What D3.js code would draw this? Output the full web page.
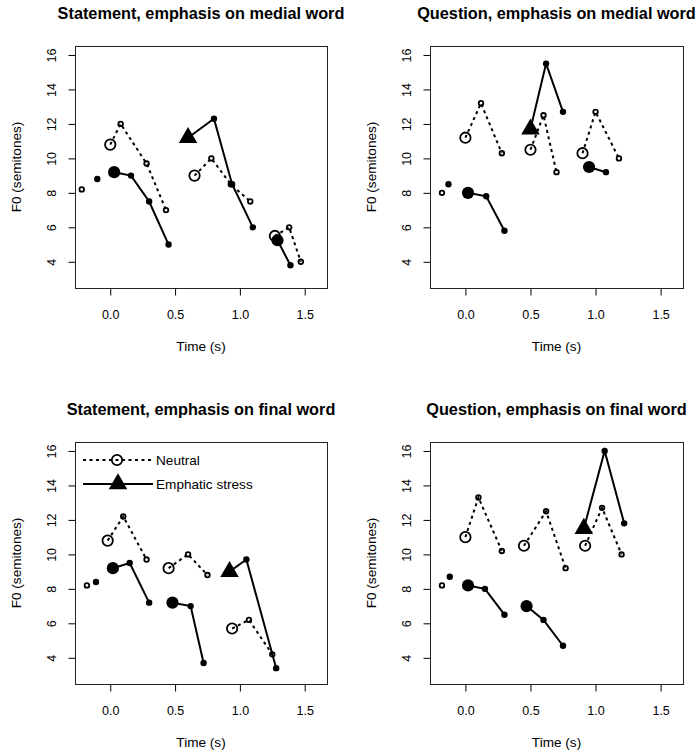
<!DOCTYPE html>
<html>
<head>
<meta charset="utf-8">
<script src="https://cdn.jsdelivr.net/npm/d3@7"></script>
<style>
  body { margin: 0; background: #fff; }
  svg { font-family: "Liberation Sans", Arial, sans-serif; }
</style>
</head>
<body>
<svg width="700" height="751"></svg>
<script>
// panel titles, top-left, top-right, bottom-left, bottom-right
var panel_titles = [
    "Statement, emphasis on medial word",
    "Question, emphasis on medial word",
    "Statement, emphasis on final word",
    "Question, emphasis on final word"
];

// each series is a list of words, each word a list of [time, F0]
// single point word = unstressed lead-in syllable
var neutral_stmt_medial = [
    [[-0.22, 8.2]],
    [[0.0, 10.8], [0.08, 12.0], [0.28, 9.7], [0.43, 7.0]],
    [[0.65, 9.0], [0.78, 10.0], [0.93, 8.5], [1.08, 7.5]],
    [[1.27, 5.5], [1.38, 6.0], [1.47, 4.0]]
];
var emphatic_stmt_medial = [
    [[-0.1, 8.8]],
    [[0.03, 9.2], [0.16, 9.0], [0.3, 7.5], [0.45, 5.0]],
    [[0.6, 11.2], [0.8, 12.3], [0.94, 8.5], [1.1, 6.0]],
    [[1.29, 5.25], [1.39, 3.8]]
];
var neutral_quest_medial = [
    [[-0.18, 8.0]],
    [[0.0, 11.2], [0.12, 13.2], [0.28, 10.3]],
    [[0.5, 10.5], [0.6, 12.5], [0.7, 9.2]],
    [[0.9, 10.3], [1.0, 12.7], [1.18, 10.0]]
];
var emphatic_quest_medial = [
    [[-0.13, 8.5]],
    [[0.02, 8.0], [0.16, 7.8], [0.3, 5.8]],
    [[0.5, 11.7], [0.62, 15.5], [0.75, 12.7]],
    [[0.95, 9.5], [1.08, 9.2]]
];
var neutral_stmt_final = [
    [[-0.18, 8.2]],
    [[-0.02, 10.8], [0.1, 12.2], [0.28, 9.7]],
    [[0.45, 9.2], [0.6, 10.0], [0.75, 8.8]],
    [[0.94, 5.7], [1.07, 6.2], [1.25, 4.2]]
];
var emphatic_stmt_final = [
    [[-0.11, 8.4]],
    [[0.02, 9.2], [0.15, 9.5], [0.3, 7.2]],
    [[0.48, 7.2], [0.62, 7.0], [0.72, 3.7]],
    [[0.92, 9.0], [1.05, 9.7], [1.28, 3.4]]
];
var neutral_quest_final = [
    [[-0.18, 8.2]],
    [[0.0, 11.0], [0.1, 13.3], [0.28, 10.2]],
    [[0.45, 10.5], [0.62, 12.5], [0.77, 9.2]],
    [[0.92, 10.5], [1.05, 12.7], [1.2, 10.0]]
];
var emphatic_quest_final = [
    [[-0.12, 8.7]],
    [[0.02, 8.2], [0.15, 8.0], [0.3, 6.5]],
    [[0.47, 7.0], [0.6, 6.2], [0.75, 4.7]],
    [[0.91, 11.5], [1.07, 16.0], [1.22, 11.8]]
];
var emphasised_word = [2, 2, 3, 3]; // index of the stressed word in each panel

var x_ticks = [0, 0.5, 1.0, 1.5];
var y_ticks = [4, 6, 8, 10, 12, 14, 16];
var x_lim = [-0.2, 1.6];
var y_lim = [3, 16];
var legend_labels = ["Neutral", "Emphatic stress"];

var neutral_sets = [neutral_stmt_medial, neutral_quest_medial, neutral_stmt_final, neutral_quest_final];
var emphatic_sets = [emphatic_stmt_medial, emphatic_quest_medial, emphatic_stmt_final, emphatic_quest_final];

// plot boxes in pixels
var boxes = [
    { x0: 75, x1: 327, y0: 46, y1: 288 },
    { x0: 430, x1: 683, y0: 46, y1: 288 },
    { x0: 75, x1: 327, y0: 442, y1: 684 },
    { x0: 430, x1: 683, y0: 442, y1: 684 }
];

var BIG_R = 5.8, SMALL_R = 2.9, TRI_R = 10.7;

function extend(lim) { // R style 4% padding
    var d = (lim[1] - lim[0]) * 0.04;
    return [lim[0] - d, lim[1] + d];
}

var svg = d3.select("svg");

function draw_word(g, pts, xscale, yscale, filled, stressed) {
    var line = d3.line()
        .x(function (d) { return xscale(d[0]); })
        .y(function (d) { return yscale(d[1]); });
    if (pts.length > 1) {
        g.append("path")
            .attr("d", line(pts))
            .attr("fill", "none")
            .attr("stroke", "#000")
            .attr("stroke-width", 2)
            .attr("stroke-dasharray", filled ? null : "3,3.5");
    }
    pts.forEach(function (p, i) {
        var big = pts.length > 1 && i == 0;
        if (big && stressed) {
            g.append("path")
                .attr("d", d3.symbol().type(d3.symbolTriangle).size(1.299 * TRI_R * TRI_R)())
                .attr("transform", "translate(" + xscale(p[0]) + "," + yscale(p[1]) + ")")
                .attr("fill", "#000");
            return;
        }
        var r = big ? BIG_R : SMALL_R;
        if (filled) {
            g.append("circle").attr("cx", xscale(p[0])).attr("cy", yscale(p[1]))
                .attr("r", r + 0.3).attr("fill", "#000");
        } else {
            g.append("circle").attr("cx", xscale(p[0])).attr("cy", yscale(p[1]))
                .attr("r", r - 0.6).attr("fill", "none")
                .attr("stroke", "#000").attr("stroke-width", 1.8);
        }
    });
}

boxes.forEach(function (box, k) {
    var xscale = d3.scaleLinear().domain(extend(x_lim)).range([box.x0, box.x1]);
    var yscale = d3.scaleLinear().domain(extend(y_lim)).range([box.y1, box.y0]);
    var g = svg.append("g");

    // x axis
    var xa = g.append("g")
        .attr("transform", "translate(0," + (box.y1 + 0.5) + ")")
        .call(d3.axisBottom(xscale).tickValues(x_ticks).tickSize(7).tickPadding(0)
            .tickFormat(d3.format(".1f")));
    xa.select(".domain").remove();
    xa.selectAll("line").attr("stroke", "#000");
    xa.selectAll("text").attr("y", 30.5).attr("dy", null)
        .attr("font-size", "12.5px").attr("fill", "#000");

    // y axis, labels rotated like R
    var ya = g.append("g")
        .attr("transform", "translate(" + (box.x0 + 0.5) + ",0)")
        .call(d3.axisLeft(yscale).tickValues(y_ticks).tickSize(7));
    ya.select(".domain").remove();
    ya.selectAll("line").attr("stroke", "#000");
    ya.selectAll("text")
        .attr("x", null).attr("dy", null)
        .attr("text-anchor", "middle")
        .attr("transform", "translate(-20,0) rotate(-90)")
        .attr("font-size", "12.5px").attr("fill", "#000");

    g.append("rect")
        .attr("x", box.x0 + 0.5).attr("y", box.y0 + 0.5)
        .attr("width", box.x1 - box.x0).attr("height", box.y1 - box.y0)
        .attr("fill", "none").attr("stroke", "#222").attr("stroke-width", 1);

    // titles
    g.append("text")
        .attr("x", (box.x0 + box.x1) / 2).attr("y", box.y0 - 27)
        .attr("text-anchor", "middle").attr("font-weight", "bold")
        .attr("font-size", "16.3px")
        .text(panel_titles[k]);
    g.append("text")
        .attr("x", (box.x0 + box.x1) / 2).attr("y", box.y1 + 62.5)
        .attr("text-anchor", "middle").attr("font-size", "13.6px")
        .text("Time (s)");
    g.append("text")
        .attr("transform", "translate(" + (box.x0 - 54) + "," + ((box.y0 + box.y1) / 2) + ") rotate(-90)")
        .attr("text-anchor", "middle").attr("font-size", "13.6px")
        .text("F0 (semitones)");

    var marks = g.append("g");
    neutral_sets[k].forEach(function (w) {
        draw_word(marks, w, xscale, yscale, false, false);
    });
    emphatic_sets[k].forEach(function (w, i) {
        draw_word(marks, w, xscale, yscale, true, i == emphasised_word[k]);
    });

    // legend only in the bottom-left panel
    if (k == 2) {
        var lg = g.append("g");
        [0, 1].forEach(function (j) {
            var ly = box.y0 + 18 + j * 24;
            lg.append("line")
                .attr("x1", box.x0 + 8).attr("x2", box.x0 + 78)
                .attr("y1", ly).attr("y2", ly)
                .attr("stroke", "#000").attr("stroke-width", 2)
                .attr("stroke-dasharray", j == 0 ? "3,3.5" : null);
            if (j == 0) {
                lg.append("circle").attr("cx", box.x0 + 42).attr("cy", ly)
                    .attr("r", BIG_R - 0.6).attr("fill", "none")
                    .attr("stroke", "#000").attr("stroke-width", 1.8);
            } else {
                lg.append("path")
                    .attr("d", d3.symbol().type(d3.symbolTriangle).size(1.299 * TRI_R * TRI_R)())
                    .attr("transform", "translate(" + (box.x0 + 43) + "," + ly + ")")
                    .attr("fill", "#000");
            }
            lg.append("text")
                .attr("x", box.x0 + 81).attr("y", ly + 5)
                .attr("font-size", "13.6px")
                .text(legend_labels[j]);
        });
    }
});
</script>
</body>
</html>
